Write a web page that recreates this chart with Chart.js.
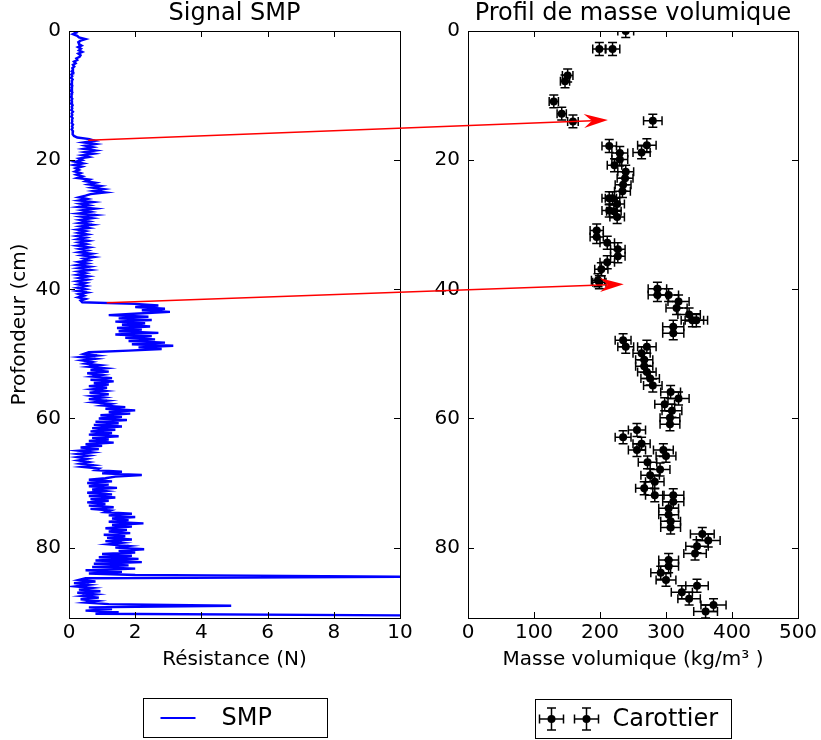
<!DOCTYPE html>
<html><head><meta charset="utf-8">
<script src="https://cdn.jsdelivr.net/npm/chart.js@4.4.1/dist/chart.umd.min.js"></script>
<style>
html,body{margin:0;padding:0;background:#fff;}
#wrap{position:relative;width:821px;height:740px;overflow:hidden;background:#fff;}
canvas{position:absolute;top:0;}
</style></head><body>
<div id="wrap">
<canvas id="c1" width="420" height="740" style="left:0px"></canvas>
<canvas id="c2" width="401" height="740" style="left:420px"></canvas>
<canvas id="ov" width="821" height="740" style="left:0px;pointer-events:none"></canvas>
</div>
<script>
// ---------------- DATA ----------------
const FONT = '"DejaVu Sans", sans-serif';
const TITLES = ['Signal SMP', 'Profil de masse volumique'];
const X_TITLES = ['Résistance (N)', 'Masse volumique (kg/m³ )'];
const Y_TITLE = 'Profondeur (cm)';
const LEGEND_LABELS = ['SMP', 'Carottier'];
const DEPTH_TICKS = [0, 20, 40, 60, 80];
const RES_TICKS = [0, 2, 4, 6, 8, 10];
const DENS_TICKS = [0, 100, 200, 300, 400, 500];

// SMP signal: resistance (N) sampled every SMP_STEP cm from the surface
const SMP_STEP = 0.25;
const SMP_RES = [
  0.15,0.22,0.12,0.25,0.3,0.5,0.35,0.28,      // 0
  0.3,0.38,0.27,0.36,0.3,0.4,0.28,0.35,       // 2
  0.32,0.22,0.25,0.15,0.2,0.12,0.16,0.1,      // 4
  0.12,0.08,0.13,0.07,0.1,0.06,0.11,0.08,     // 6
  0.09,0.06,0.1,0.07,0.09,0.05,0.1,0.07,      // 8
  0.08,0.06,0.1,0.07,0.09,0.06,0.11,0.08,     // 10
  0.1,0.07,0.12,0.08,0.1,0.07,0.11,0.09,      // 12
  0.1,0.08,0.12,0.09,0.11,0.08,0.12,0.1,      // 14
  0.12,0.15,0.25,0.62,0.78,0.45,0.8,0.5,      // 16
  0.72,0.45,0.8,0.48,0.75,0.4,0.6,0.3,        // 18
  0.4,0.18,0.42,0.15,0.38,0.2,0.3,0.18,       // 20
  0.35,0.22,0.4,0.25,0.62,0.5,0.8,0.6,        // 22
  0.95,0.7,1.05,0.75,1.1,0.65,0.5,0.3,        // 24
  0.55,0.3,0.72,0.35,0.6,0.28,0.78,0.4,       // 26
  0.65,0.3,0.8,0.38,0.7,0.35,0.6,0.32,        // 28
  0.7,0.35,0.6,0.25,0.5,0.28,0.55,0.24,       // 30
  0.5,0.26,0.58,0.3,0.52,0.25,0.6,0.32,       // 32
  0.55,0.3,0.68,0.4,0.75,0.45,0.6,0.3,        // 34
  0.55,0.25,0.62,0.3,0.65,0.28,0.5,0.25,      // 36
  0.58,0.3,0.55,0.25,0.5,0.28,0.52,0.26,      // 38
  0.5,0.25,0.55,0.3,0.45,0.28,0.5,0.35,       // 40
  0.4,2.0,2.7,2.0,2.9,2.2,3.05,2.1,           // 42
  1.2,2.4,1.5,2.5,1.4,2.3,1.6,2.45,           // 44
  1.45,2.2,1.5,2.7,1.4,2.5,1.7,2.6,           // 46
  1.8,2.9,1.9,3.15,2.1,2.8,1.8,0.6,           // 48
  0.45,0.85,0.35,0.8,0.4,0.7,0.5,0.95,        // 50
  0.6,1.1,0.65,1.2,0.55,1.0,0.7,1.3,          // 52
  0.65,1.35,0.75,1.2,0.6,1.15,0.7,1.1,        // 54
  0.62,1.2,0.7,1.05,0.6,1.15,0.75,1.25,       // 56
  1.0,1.7,1.1,2.0,1.2,1.85,0.95,1.6,          // 58
  0.9,1.75,0.8,1.5,0.75,1.6,0.7,1.4,          // 60
  0.65,1.3,0.6,1.5,0.7,1.2,0.6,1.35,          // 62
  0.5,1.0,0.35,0.9,0.3,0.7,0.25,0.6,          // 64
  0.25,0.55,0.28,0.6,0.35,0.75,0.4,0.9,       // 66
  0.8,1.6,1.0,2.2,1.4,1.1,0.6,1.3,            // 68
  0.55,1.2,0.6,1.45,0.7,1.1,0.55,1.3,         // 70
  0.6,1.4,0.65,1.2,0.55,1.1,0.6,1.35,         // 72
  0.65,1.25,1.1,1.9,1.2,2.0,1.3,1.8,          // 74
  1.2,2.25,1.3,1.9,1.1,1.75,1.2,1.85,         // 76
  1.05,1.7,1.15,1.9,1.1,1.6,1.2,1.8,          // 78
  1.4,2.27,1.5,2.0,1.0,1.9,0.9,2.1,           // 80
  0.8,2.2,0.75,1.8,0.7,2.0,0.5,1.6,           // 82
  0.6,2.0,10.5,0.5,0.3,0.8,0.15,0.6,          // 84
  0.2,0.7,0.3,0.95,0.25,0.8,0.4,0.9,          // 86
  0.35,0.85,0.5,1.2,4.9,0.6,1.3,0.5,          // 88
  1.5,0.8,10.5,10.5                           // 90
];

// Core samples (Carottier): depth (cm), density (kg/m3), density error
const CORE_DEPTH = [0.0,2.8,2.8,6.9,7.8,10.9,12.8,14.0,13.9,17.7,
  17.8,18.8,18.9,19.9,20.8,21.8,22.8,23.8,24.8,25.9,
  25.9,26.8,27.8,27.9,28.8,30.9,31.9,32.8,33.8,34.9,
  35.8,36.9,38.6,38.9,39.9,40.9,40.9,41.9,42.9,43.9,
  44.8,44.8,45.8,46.8,47.9,48.9,48.9,49.9,50.9,51.9,
  52.8,53.8,54.9,55.9,56.9,57.8,58.8,59.9,60.9,61.8,
  62.9,63.9,64.9,64.9,65.8,66.8,67.9,68.8,69.8,70.8,
  71.9,71.9,72.9,73.9,74.9,75.9,76.9,77.9,78.9,79.8,
  80.9,81.9,82.9,83.9,85.0,85.9,86.9,87.9,88.9,89.9];
const CORE_DENS = [239,199,219,151,147,130,142,159,280,271,
  214,263,230,230,222,239,238,235,234,214,
  219,226,214,221,226,195,195,211,227,227,
  211,202,197,199,287,287,304,319,316,335,
  340,346,311,311,235,239,271,263,267,267,
  271,276,280,307,319,298,309,306,306,256,
  235,263,256,296,300,272,291,276,283,267,
  283,311,311,304,304,307,307,355,364,347,
  344,304,304,292,300,347,324,335,372,360];
const CORE_DENS_ERR = [12,10,11,8,7,7,7,8,14,14,
  11,13,12,12,11,12,12,12,12,11,
  11,11,11,11,11,10,10,11,11,11,
  11,10,10,10,14,14,15,16,16,17,
  17,17,16,16,12,12,14,13,13,13,
  14,14,14,15,16,15,15,15,15,13,
  12,13,13,15,15,14,15,14,14,13,
  14,16,16,15,15,15,15,18,18,17,
  17,15,15,15,15,17,16,17,19,18];
const CORE_DEPTH_ERR = 1.0;

// Red annotation arrows: start (resistance, depth) on SMP axes -> end (density, depth) on profile axes
const ARROW_FROM = [[0.58, 16.9], [1.14, 42.1]];
const ARROW_TO = [[212, 13.8], [236, 39.2]];

// ---------------- PLUGINS ----------------
const frameTicks = {
  id: 'frameTicks',
  afterDraw(chart) {
    const {ctx, chartArea: a, scales} = chart;
    const L = 6;
    ctx.save();
    ctx.strokeStyle = '#000';
    ctx.lineWidth = 1;
    ctx.beginPath();
    scales.x.ticks.forEach(t => {
      const p = Math.round(scales.x.getPixelForValue(t.value)) + 0.5;
      ctx.moveTo(p, a.bottom); ctx.lineTo(p, a.bottom - L);
      ctx.moveTo(p, a.top); ctx.lineTo(p, a.top + L);
    });
    scales.y.ticks.forEach(t => {
      const p = Math.round(scales.y.getPixelForValue(t.value)) + 0.5;
      ctx.moveTo(a.left, p); ctx.lineTo(a.left + L, p);
      ctx.moveTo(a.right, p); ctx.lineTo(a.right - L, p);
    });
    ctx.stroke();
    ctx.strokeRect(Math.round(a.left) + 0.5, Math.round(a.top) + 0.5,
      Math.round(a.right - a.left), Math.round(a.bottom - a.top));
    ctx.restore();
  }
};

function drawErrBar(ctx, px, py, xl, xr, yt, yb, cap) {
  ctx.beginPath();
  ctx.moveTo(xl, py); ctx.lineTo(xr, py);
  ctx.moveTo(xl, py - cap); ctx.lineTo(xl, py + cap);
  ctx.moveTo(xr, py - cap); ctx.lineTo(xr, py + cap);
  ctx.moveTo(px, yt); ctx.lineTo(px, yb);
  ctx.moveTo(px - cap, yt); ctx.lineTo(px + cap, yt);
  ctx.moveTo(px - cap, yb); ctx.lineTo(px + cap, yb);
  ctx.stroke();
}

const errorBars = {
  id: 'errorBars',
  beforeDatasetsDraw(chart) {
    const {ctx, chartArea: a, scales: {x, y}} = chart;
    ctx.save();
    ctx.beginPath();
    ctx.rect(a.left, a.top, a.right - a.left, a.bottom - a.top);
    ctx.clip();
    ctx.strokeStyle = '#000';
    ctx.lineWidth = 1.5;
    CORE_DENS.forEach((v, i) => {
      const d = CORE_DEPTH[i];
      const px = x.getPixelForValue(v), py = y.getPixelForValue(d);
      drawErrBar(ctx, px, py,
        x.getPixelForValue(v - CORE_DENS_ERR[i]), x.getPixelForValue(v + CORE_DENS_ERR[i]),
        y.getPixelForValue(d - CORE_DEPTH_ERR), y.getPixelForValue(d + CORE_DEPTH_ERR), 4.5);
    });
    ctx.restore();
  }
};

const boxLegend = {
  id: 'boxLegend',
  afterDraw(chart, args, opts) {
    const {ctx, chartArea: a} = chart;
    const w = opts.boxWidth, h = opts.boxHeight;
    const x0 = Math.round((a.left + a.right) / 2 - w / 2) + 0.5;
    const y0 = opts.top + 0.5;
    const cy = y0 + h / 2;
    const ds = chart.data.datasets[0];
    ctx.save();
    ctx.fillStyle = '#fff';
    ctx.fillRect(x0, y0, w, h);
    ctx.strokeStyle = '#000';
    ctx.lineWidth = 1;
    ctx.strokeRect(x0, y0, w, h);
    if (opts.kind === 'line') {
      ctx.strokeStyle = ds.borderColor;
      ctx.lineWidth = 2;
      ctx.beginPath();
      ctx.moveTo(x0 + 17, cy); ctx.lineTo(x0 + 52, cy);
      ctx.stroke();
    } else {
      ctx.strokeStyle = '#000';
      ctx.lineWidth = 1.5;
      [16, 51].forEach(dx => {
        const px = x0 + dx;
        drawErrBar(ctx, px, cy, px - 12, px + 12, cy - 11, cy + 11, 4.5);
        ctx.fillStyle = '#000';
        ctx.beginPath();
        ctx.arc(px, cy, 4, 0, Math.PI * 2);
        ctx.fill();
      });
    }
    ctx.fillStyle = '#000';
    ctx.font = '24px ' + FONT;
    ctx.textBaseline = 'middle';
    ctx.textAlign = 'left';
    ctx.fillText(ds.label, x0 + opts.textOffset, cy + 1);
    ctx.restore();
  }
};

function keepTicks(list) {
  return function (scale) {
    scale.ticks = list.map(v => ({value: v}));
  };
}

function axisCommon(tickList, fitProp, fitVal, extra) {
  return Object.assign({
    type: 'linear',
    afterBuildTicks: keepTicks(tickList),
    ticks: {font: {family: FONT, size: 20}, color: '#000', maxRotation: 0, autoSkip: false},
    grid: {display: false, drawTicks: false},
    border: {display: false},
    afterFit(s) { s[fitProp] = fitVal; }
  }, extra);
}

// ---------------- CHART 1: SMP ----------------
const smpPoints = SMP_RES.map((v, i) => ({x: v, y: i * SMP_STEP}));

const chart1 = new Chart(document.getElementById('c1'), {
  type: 'line',
  data: {
    datasets: [{
      label: LEGEND_LABELS[0],
      data: smpPoints,
      borderColor: '#0000ff',
      backgroundColor: '#0000ff',
      borderWidth: 2.4,
      pointRadius: 0,
      tension: 0,
      fill: false,
      clip: 0
    }]
  },
  options: {
    responsive: false,
    animation: false,
    events: [],
    layout: {padding: {left: 0, right: 20, top: 0, bottom: 65}},
    plugins: {
      legend: {display: false},
      tooltip: {enabled: false},
      title: {display: true, text: TITLES[0], color: '#000', fullSize: false,
        font: {family: FONT, size: 24, weight: 'normal', lineHeight: 1.1},
        padding: {top: 1, bottom: 3.6}},
      boxLegend: {kind: 'line', boxWidth: 184, boxHeight: 39, top: 698, textOffset: 78}
    },
    scales: {
      x: axisCommon(RES_TICKS, 'height', 57, {
        min: 0, max: 10, position: 'bottom',
        ticks: {font: {family: FONT, size: 20}, color: '#000', maxRotation: 0, autoSkip: false, padding: 3},
        title: {display: true, text: X_TITLES[0], color: '#000',
          font: {family: FONT, size: 20}, padding: {top: 0, bottom: 3}}
      }),
      y: axisCommon(DEPTH_TICKS, 'width', 69, {
        min: 0, max: 90.9, reverse: true, position: 'left',
        ticks: {font: {family: FONT, size: 20}, color: '#000', autoSkip: false, padding: 8},
        title: {display: true, text: Y_TITLE, color: '#000',
          font: {family: FONT, size: 20}, padding: {top: 8, bottom: 0}}
      })
    }
  },
  plugins: [frameTicks, boxLegend]
});

// ---------------- CHART 2: density profile ----------------
const corePoints = CORE_DENS.map((v, i) => ({x: v, y: CORE_DEPTH[i]}));

const chart2 = new Chart(document.getElementById('c2'), {
  type: 'scatter',
  data: {
    datasets: [{
      label: LEGEND_LABELS[1],
      data: corePoints,
      borderColor: '#000',
      backgroundColor: '#000',
      pointRadius: 4,
      pointBorderWidth: 0,
      clip: 0
    }]
  },
  options: {
    responsive: false,
    animation: false,
    events: [],
    layout: {padding: {left: 0, right: 23, top: 0, bottom: 65}},
    plugins: {
      legend: {display: false},
      tooltip: {enabled: false},
      title: {display: true, text: TITLES[1], color: '#000', fullSize: false,
        font: {family: FONT, size: 24, weight: 'normal', lineHeight: 1.1},
        padding: {top: 1, bottom: 3.6}},
      boxLegend: {kind: 'err', boxWidth: 196, boxHeight: 39, top: 699, textOffset: 77}
    },
    scales: {
      x: axisCommon(DENS_TICKS, 'height', 57, {
        min: 0, max: 500, position: 'bottom',
        ticks: {font: {family: FONT, size: 20}, color: '#000', maxRotation: 0, autoSkip: false, padding: 3},
        title: {display: true, text: X_TITLES[1], color: '#000',
          font: {family: FONT, size: 20}, padding: {top: 0, bottom: 3}}
      }),
      y: axisCommon(DEPTH_TICKS, 'width', 48, {
        min: 0, max: 90.9, reverse: true, position: 'left',
        ticks: {font: {family: FONT, size: 20}, color: '#000', autoSkip: false, padding: 8}
      })
    }
  },
  plugins: [errorBars, frameTicks, boxLegend]
});

// ---------------- Overlay arrows ----------------
function drawArrows() {
  const ctx = document.getElementById('ov').getContext('2d');
  ctx.clearRect(0, 0, 821, 740);
  const off2 = 420;
  ARROW_FROM.forEach((f, i) => {
    const t = ARROW_TO[i];
    const sx = chart1.scales.x.getPixelForValue(f[0]);
    const sy = chart1.scales.y.getPixelForValue(f[1]);
    const ex = chart2.scales.x.getPixelForValue(t[0]) + off2;
    const ey = chart2.scales.y.getPixelForValue(t[1]);
    const dx = ex - sx, dy = ey - sy, len = Math.hypot(dx, dy);
    const ux = dx / len, uy = dy / len, nx = -uy, ny = ux;
    const HL = 24, HW = 7, NOTCH = 16;
    ctx.save();
    ctx.strokeStyle = '#ff0000';
    ctx.fillStyle = '#ff0000';
    ctx.lineWidth = 1.5;
    ctx.beginPath();
    ctx.moveTo(sx, sy);
    ctx.lineTo(ex - ux * NOTCH, ey - uy * NOTCH);
    ctx.stroke();
    ctx.beginPath();
    ctx.moveTo(ex, ey);
    ctx.lineTo(ex - ux * HL + nx * HW, ey - uy * HL + ny * HW);
    ctx.lineTo(ex - ux * NOTCH, ey - uy * NOTCH);
    ctx.lineTo(ex - ux * HL - nx * HW, ey - uy * HL - ny * HW);
    ctx.closePath();
    ctx.fill();
    ctx.restore();
  });
}
drawArrows();
</script>
</body></html>
